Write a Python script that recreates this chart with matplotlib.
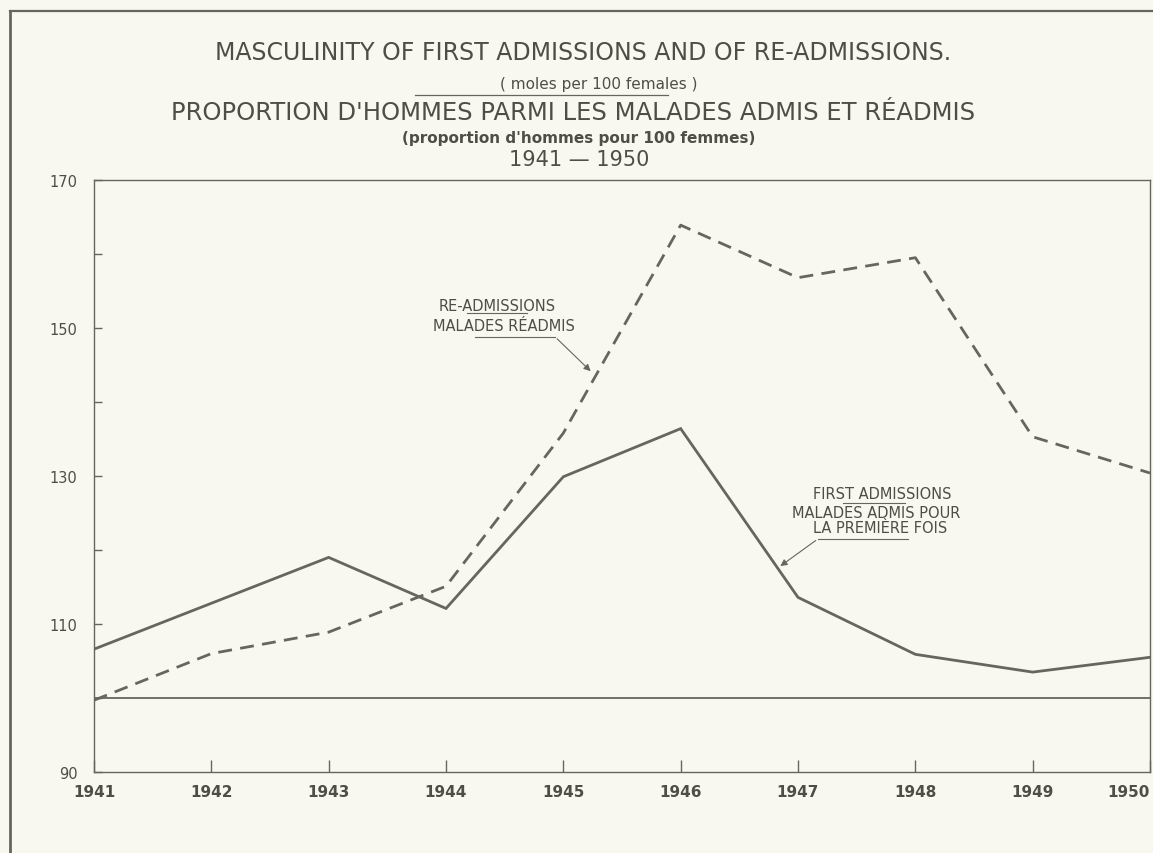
import matplotlib.pyplot as plt
from matplotlib.lines import Line2D

years = [1941, 1942, 1943, 1944, 1945, 1946, 1947, 1948, 1949, 1950]
first_adm = [106.6, 112.8, 119.0, 112.1, 129.9, 136.4, 113.6, 105.9, 103.5, 105.5]
re_adm = [99.7, 106.0, 108.9, 115.1, 135.8, 163.9, 156.8, 159.5, 135.3, 130.4]
y_labels = [90, 110, 130, 150, 170]

bg = '#f8f8f1'
ink = '#66665c'
txt = '#4e4e46'

plt.rcParams['font.family'] = ['DejaVu Sans']
fig = plt.figure(figsize=(11.53, 8.54), dpi=100, facecolor=bg)
ax = fig.add_axes([94/1153, 1-773/854, (1150-94)/1153, (773-181)/854])
ax.set_facecolor(bg)

ax.plot(years, first_adm, color=ink, lw=2.0, solid_joinstyle='miter')
ax.plot(years, re_adm, color=ink, lw=2.0, dashes=(5, 3))
ax.axhline(100, color=ink, lw=1.3)

ax.set_xlim(1941, 1950)
ax.set_ylim(90, 170)
ax.set_xticks(years)
ax.set_xticklabels([str(y) for y in years], fontsize=11, fontweight='bold', color=txt)
ax.get_xticklabels()[-1].set_horizontalalignment('right')
ax.set_yticks(range(90, 171, 10))
ax.set_yticklabels([str(v) if v in y_labels else '' for v in range(90, 171, 10)],
                   fontsize=10.5, color=txt)
ax.tick_params(axis='y', direction='in', length=6, width=1, color=ink, pad=12)
ax.tick_params(axis='x', direction='in', length=9, width=1, color=ink, pad=9)
for s in ax.spines.values():
    s.set_color(ink)
    s.set_linewidth(1.0)

# titles
fig.text(583/1153, 1-53/854, 'MASCULINITY OF FIRST ADMISSIONS AND OF RE-ADMISSIONS.', ha='center', va='center',
         fontsize=17, color=txt)
fig.text(599/1153, 1-84/854, '( moles per 100 females )', ha='center', va='center', fontsize=11,
         color=txt)
fig.add_artist(Line2D([415/1153, 668/1153], [1-96/854, 1-96/854], color=ink, lw=0.9))
fig.text(573/1153, 1-113/854, "PROPORTION D'HOMMES PARMI LES MALADES ADMIS ET RÉADMIS", ha='center', va='center',
         fontsize=17.5, color=txt)
fig.text(579/1153, 1-138/854, "(proportion d'hommes pour 100 femmes)", ha='center', va='center', fontsize=11,
         fontweight='bold', color=txt)
fig.text(579/1153, 1-160/854, '1941 — 1950', ha='center', va='center', fontsize=15, color=txt)

# frame lines of the page
fig.add_artist(Line2D([10/1153, 10/1153], [0, 1-12/854], color=ink, lw=2.0))
fig.add_artist(Line2D([10/1153, 1], [1-12/854, 1-12/854], color=ink, lw=1.6))

# line labels
ax.text(1944.44, 153.0, 'RE-ADMISSIONS', ha='center', va='center', fontsize=10.5, color=txt)
ax.plot([1944.18, 1944.69], [152.0, 152.0], color=ink, lw=0.8)
ax.text(1944.49, 150.3, 'MALADES RÉADMIS', ha='center', va='center', fontsize=10.5, color=txt)
ax.plot([1944.25, 1944.93], [148.8, 148.8], color=ink, lw=0.8)
ax.annotate('', xy=(1945.25, 143.9), xytext=(1944.93, 148.8),
            arrowprops=dict(arrowstyle='-|>', color=ink, lw=0.8, mutation_scale=10))

ax.text(1947.72, 127.7, 'FIRST ADMISSIONS', ha='center', va='center', fontsize=10.5, color=txt)
ax.plot([1947.38, 1947.91], [126.35, 126.35], color=ink, lw=0.8)
ax.text(1947.67, 125.0, 'MALADES ADMIS POUR', ha='center', va='center', fontsize=10.5, color=txt)
ax.text(1947.70, 123.0, 'LA PREMIÈRE FOIS', ha='center', va='center', fontsize=10.5, color=txt)
ax.plot([1947.17, 1947.94], [121.5, 121.5], color=ink, lw=0.8)
ax.annotate('', xy=(1946.83, 117.6), xytext=(1947.17, 121.5),
            arrowprops=dict(arrowstyle='-|>', color=ink, lw=0.8, mutation_scale=10))

fig.savefig('out.png', dpi=100, facecolor=bg)
